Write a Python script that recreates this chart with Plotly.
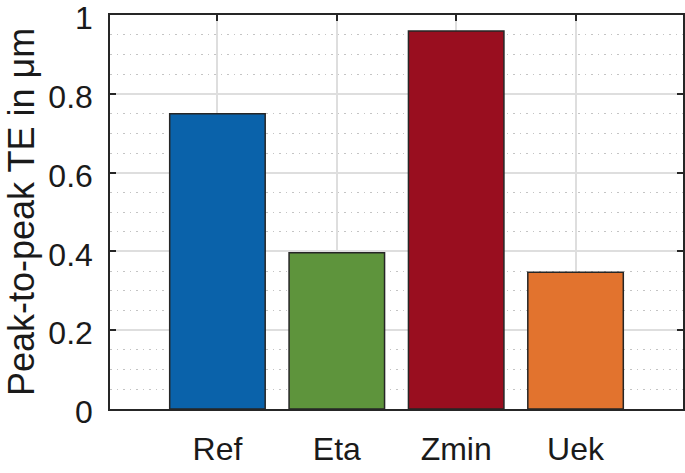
import plotly.graph_objects as go

# bar data
labels = ['Ref', 'Eta', 'Zmin', 'Uek']
values = [0.75, 0.397, 0.96, 0.347]
colors = ['#0A62AA', '#5E943C', '#990E1F', '#E2732E']
yticks = [0, 0.2, 0.4, 0.6, 0.8, 1]
yticktext = ['0', '0.2', '0.4', '0.6', '0.8', '1']

fig = go.Figure()
fig.add_trace(go.Bar(x=labels, y=values, width=0.8,
                     marker=dict(color=colors, line=dict(color='#262626', width=1.5))))

font = 'Liberation Sans, Arial, sans-serif'
fig.update_layout(
    width=685, height=473,
    margin=dict(l=110, r=2, t=15, b=64),
    plot_bgcolor='white', paper_bgcolor='white',
    showlegend=False,
    font=dict(family=font, size=32, color='#1a1a1a'),
)
fig.update_xaxes(
    type='category', range=[-0.9, 3.9], automargin=False,
    showline=True, linecolor='#262626', linewidth=1.5, mirror='ticks',
    ticks='inside', ticklen=6, tickcolor='#262626', tickwidth=1.5,
    showgrid=True, gridcolor='#dedede', gridwidth=1.5,
    ticklabelstandoff=11, layer='below traces',
    tickfont=dict(size=32),
)
fig.update_yaxes(
    range=[0, 1.0005], tickvals=yticks, ticktext=yticktext, automargin=False,
    showline=True, linecolor='#262626', linewidth=1.5, mirror='ticks',
    ticks='inside', ticklen=6, tickcolor='#262626', tickwidth=1.5,
    showgrid=True, gridcolor='#dedede', gridwidth=1.5, zeroline=False,
    minor=dict(dtick=0.05, tick0=0, showgrid=True, gridcolor='#c4c4c4', gridwidth=1.2,
               griddash='1.5px,5px', ticks=''),
    ticklabelstandoff=9, ticklabeloverflow='allow', ticklabelshift=3,
    tickfont=dict(size=32),
)
# y axis title as a rotated annotation so it can sit closer to the page edge
fig.add_annotation(text='Peak-to-peak TE in μm', textangle=-90,
                   xref='paper', yref='paper', x=0, y=0.5, xshift=-89,
                   xanchor='center', yanchor='middle', showarrow=False,
                   font=dict(size=36))

# page body has an 8px default margin and may get scrollbars; drop both
fig.write_html("out.html", config={'displayModeBar': False},
               post_script="document.body.style.margin='0';document.body.style.overflow='hidden';")
